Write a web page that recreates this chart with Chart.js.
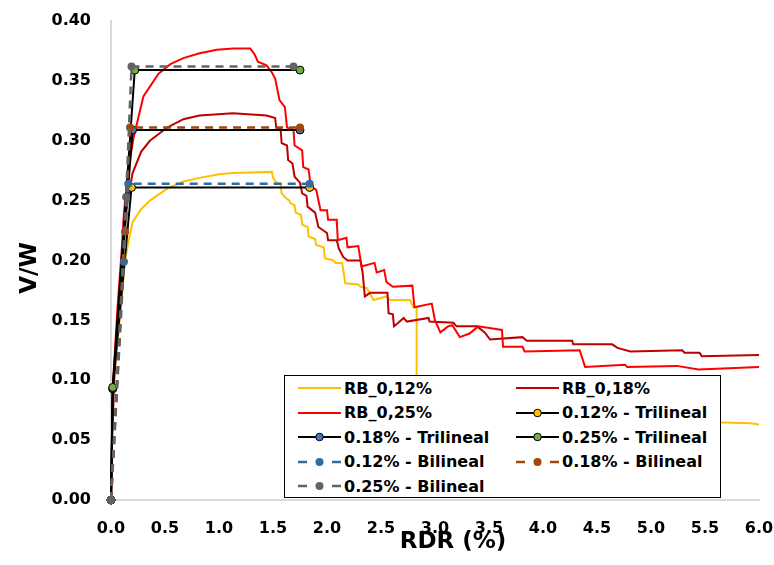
<!DOCTYPE html>
<html>
<head>
<meta charset="utf-8">
<script src="https://cdn.jsdelivr.net/npm/chart.js@4.4.1/dist/chart.umd.min.js"></script>
<style>
  html,body{margin:0;padding:0;background:#fff;}
  #wrap{position:relative;width:774px;height:565px;}
  #legend{position:absolute;left:284px;top:375px;width:437px;height:123px;box-sizing:border-box;
    border:1px solid #000;background:#fff;font:bold 16px "DejaVu Sans";color:#000;}
  .leg{position:absolute;display:flex;align-items:center;height:20px;white-space:nowrap;}
  .leg svg{width:43px;height:14px;margin-right:3px;flex:none;}
</style>
</head>
<body>
<div id="wrap">
  <canvas id="chart" width="774" height="565"></canvas>
  <div id="legend"></div>
</div>
<script>
// axis
const xTicks = { min: 0, max: 6, step: 0.5 };
const yTicks = { min: 0, max: 0.4, step: 0.05 };
const xTitle = 'RDR (%)';
const yTitle = 'V/W';

// test curves [RDR %, V/W]
const rb012 = [[0,0],[0.016,0.09],[0.08,0.15],[0.13,0.20],[0.16,0.215],[0.20,0.232],[0.28,0.243],[0.36,0.250],[0.52,0.260],[0.67,0.266],[0.82,0.269],[1.00,0.272],[1.13,0.273],[1.49,0.274],[1.50,0.269],[1.53,0.265],[1.57,0.264],[1.58,0.256],[1.61,0.253],[1.65,0.250],[1.66,0.248],[1.70,0.246],[1.71,0.240],[1.76,0.238],[1.77,0.230],[1.82,0.228],[1.83,0.220],[1.89,0.218],[1.90,0.213],[1.97,0.211],[1.98,0.202],[2.06,0.200],[2.08,0.198],[2.14,0.198],[2.17,0.181],[2.29,0.180],[2.31,0.178],[2.37,0.177],[2.43,0.167],[2.55,0.170],[2.58,0.167],[2.77,0.167],[2.80,0.161],[2.83,0.161],[2.83,0.087],[3.17,0.085],[3.42,0.083],[3.69,0.082],[4.03,0.081],[4.34,0.078],[4.65,0.074],[4.81,0.073],[5.11,0.069],[5.43,0.067],[5.57,0.065],[5.92,0.064],[6.0,0.063]];
const rb018 = [[0,0],[0.01,0.05],[0.03,0.10],[0.07,0.16],[0.10,0.20],[0.13,0.238],[0.20,0.273],[0.28,0.291],[0.36,0.300],[0.52,0.311],[0.67,0.318],[0.82,0.321],[1.13,0.323],[1.44,0.321],[1.52,0.319],[1.53,0.311],[1.57,0.310],[1.58,0.298],[1.63,0.296],[1.64,0.284],[1.68,0.281],[1.70,0.270],[1.75,0.265],[1.77,0.256],[1.81,0.254],[1.82,0.245],[1.89,0.240],[1.92,0.228],[2.00,0.223],[2.01,0.217],[2.09,0.217],[2.11,0.210],[2.15,0.203],[2.19,0.200],[2.31,0.200],[2.33,0.190],[2.35,0.170],[2.40,0.173],[2.56,0.173],[2.57,0.156],[2.61,0.155],[2.62,0.145],[2.66,0.148],[2.71,0.152],[2.74,0.149],[2.94,0.152],[2.95,0.149],[3.17,0.148],[3.20,0.145],[3.39,0.145],[3.46,0.140],[3.51,0.134],[3.81,0.136],[3.85,0.133],[4.27,0.133],[4.28,0.130],[4.64,0.130],[4.69,0.127],[4.81,0.124],[5.29,0.125],[5.31,0.123],[5.45,0.123],[5.47,0.120],[6.0,0.121]];
const rb025 = [[0,0],[0.01,0.06],[0.02,0.10],[0.06,0.16],[0.10,0.21],[0.12,0.24],[0.16,0.276],[0.21,0.303],[0.30,0.337],[0.44,0.356],[0.55,0.364],[0.67,0.369],[0.82,0.373],[0.98,0.376],[1.13,0.377],[1.29,0.377],[1.33,0.372],[1.36,0.366],[1.44,0.363],[1.49,0.357],[1.52,0.352],[1.56,0.334],[1.61,0.328],[1.63,0.311],[1.69,0.309],[1.70,0.296],[1.77,0.292],[1.78,0.278],[1.83,0.276],[1.85,0.262],[1.90,0.259],[1.94,0.242],[2.00,0.242],[2.01,0.234],[2.09,0.234],[2.10,0.217],[2.18,0.219],[2.19,0.211],[2.29,0.212],[2.32,0.195],[2.44,0.198],[2.46,0.190],[2.53,0.192],[2.55,0.182],[2.61,0.178],[2.79,0.179],[2.81,0.161],[2.97,0.164],[3.00,0.150],[3.05,0.140],[3.12,0.145],[3.16,0.146],[3.23,0.136],[3.32,0.139],[3.40,0.145],[3.62,0.142],[3.63,0.128],[3.81,0.128],[3.83,0.124],[4.34,0.125],[4.39,0.111],[4.76,0.113],[4.78,0.111],[5.24,0.112],[5.44,0.109],[6.0,0.111]];

// idealised envelopes
const tri012 = [[0,0],[0.016,0.093],[0.19,0.261],[1.84,0.261]];
const tri018 = [[0,0],[0.016,0.093],[0.20,0.309],[1.75,0.309]];
const tri025 = [[0,0],[0.016,0.094],[0.22,0.359],[1.75,0.359]];
const bi012  = [[0,0],[0.12,0.199],[0.16,0.264],[1.84,0.264]];
const bi018  = [[0,0],[0.13,0.224],[0.176,0.311],[1.75,0.311]];
const bi025  = [[0,0],[0.14,0.253],[0.19,0.362],[1.69,0.362]];

const FONT = '"DejaVu Sans"';
const pts = arr => arr.map(([x,y]) => ({x, y}));

const curve = (label, data, color) => ({
  label, data: pts(data), showLine: true, borderColor: color, borderWidth: 2,
  pointRadius: 0, tension: 0, kind: 'curve'
});
const tri = (label, data, fill) => ({
  label, data: pts(data), showLine: true, borderColor: '#000', borderWidth: 2,
  pointRadius: 4, pointBackgroundColor: fill, pointBorderColor: '#000', pointBorderWidth: 1,
  clip: false, kind: 'tri', mark: fill
});
const bi = (label, data, color) => ({
  label, data: pts(data), showLine: true, borderColor: color, borderWidth: 2.5, borderDash: [8,6],
  pointRadius: 4, pointBackgroundColor: color, pointBorderColor: color, pointBorderWidth: 0,
  clip: false, kind: 'bi', mark: color
});

const datasets = [
  curve('RB_0,12%', rb012, '#ffc000'),
  curve('RB_0,18%', rb018, '#c00000'),
  curve('RB_0,25%', rb025, '#ff0000'),
  tri('0.12% - Trilineal', tri012, '#ffc000'),
  tri('0.18% - Trilineal', tri018, '#4472c4'),
  tri('0.25% - Trilineal', tri025, '#70ad47'),
  bi('0.12% - Bilineal', bi012, '#2e6da4'),
  bi('0.18% - Bilineal', bi018, '#9e480e'),
  bi('0.25% - Bilineal', bi025, '#636363'),
];
// excel order: later series on top
datasets.forEach((d, i) => d.order = datasets.length - 1 - i);

const axisTitles = {
  id: 'axisTitles',
  afterDraw(c) {
    const {ctx, chartArea: a} = c;
    ctx.save();
    ctx.fillStyle = '#000';
    ctx.font = 'bold 23px ' + FONT;
    ctx.textAlign = 'center';
    ctx.textBaseline = 'alphabetic';
    ctx.fillText(xTitle, a.left + 342, a.bottom + 48);
    ctx.translate(30, a.top + 247);
    ctx.rotate(-Math.PI / 2);
    ctx.textBaseline = 'middle';
    ctx.fillText(yTitle, 0, 0);
    ctx.restore();
  }
};

const tickFont = { family: FONT, weight: 'bold', size: 16 };
new Chart(document.getElementById('chart').getContext('2d'), {
  type: 'scatter',
  data: { datasets },
  options: {
    responsive: false, animation: false, devicePixelRatio: 1,
    layout: { padding: { left: 0, right: 15, top: 21, bottom: 0 } },
    plugins: { legend: { display: false }, tooltip: { enabled: false } },
    scales: {
      x: {
        type: 'linear', min: xTicks.min, max: xTicks.max,
        ticks: { stepSize: xTicks.step, callback: v => v.toFixed(1), color: '#000', font: tickFont, padding: 19, maxRotation: 0, autoSkip: false },
        grid: { display: false, drawTicks: false },
        border: { color: '#d9d9d9', width: 2 },
        afterFit(s) { s.height = 65; s.paddingLeft = 0; s.paddingRight = 0; }
      },
      y: {
        type: 'linear', min: yTicks.min, max: yTicks.max,
        ticks: { stepSize: yTicks.step, callback: v => v.toFixed(2), color: '#000', font: tickFont, padding: 20 },
        grid: { display: false, drawTicks: false },
        border: { color: '#d9d9d9', width: 2 },
        afterFit(s) { s.width = 111; s.paddingTop = 0; s.paddingBottom = 0; }
      }
    }
  },
  plugins: [axisTitles]
});

// legend box (two columns, filled row by row)
const rowTops = [2, 26.5, 51, 75.5, 100];
const colLefts = [13, 231];
function sample(d) {
  let s = '<svg viewBox="0 0 43 14">';
  if (d.kind === 'bi') {
    s += `<line x1="0" y1="7" x2="9" y2="7" stroke="${d.borderColor}" stroke-width="2.5"/>`;
    s += `<line x1="34" y1="7" x2="43" y2="7" stroke="${d.borderColor}" stroke-width="2.5"/>`;
    s += `<circle cx="21.5" cy="7" r="4" fill="${d.mark}"/>`;
  } else {
    s += `<line x1="0" y1="7" x2="43" y2="7" stroke="${d.borderColor}" stroke-width="2"/>`;
    if (d.kind === 'tri') s += `<circle cx="21.5" cy="7" r="3.8" fill="${d.mark}" stroke="#000" stroke-width="1"/>`;
  }
  return s + '</svg>';
}
document.getElementById('legend').innerHTML = datasets.map((d, i) =>
  `<div class="leg" style="left:${colLefts[i % 2]}px;top:${rowTops[Math.floor(i / 2)]}px">${sample(d)}<span>${d.label}</span></div>`
).join('');
</script>
</body>
</html>
